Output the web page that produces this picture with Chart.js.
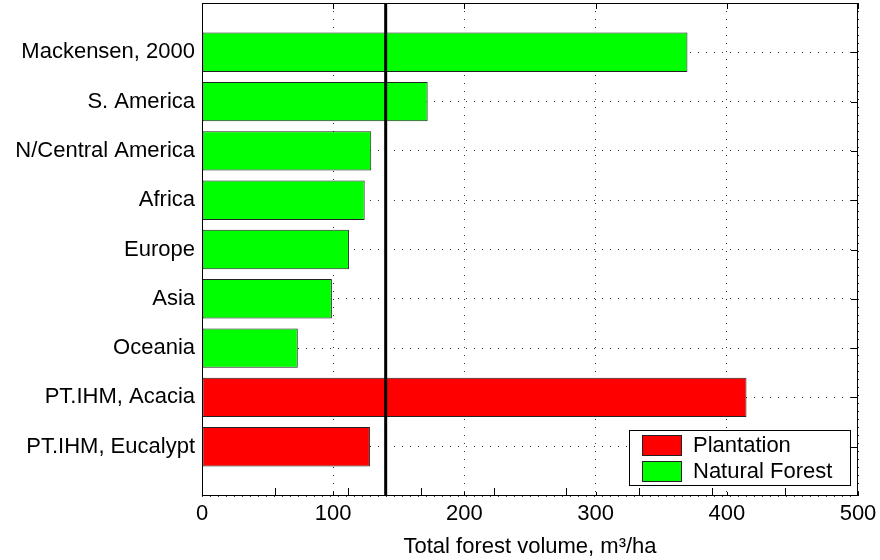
<!DOCTYPE html>
<html>
<head>
<meta charset="utf-8">
<script src="https://cdn.jsdelivr.net/npm/chart.js@4.4.1/dist/chart.umd.min.js"></script>
<style>
  html, body { margin: 0; padding: 0; background: #fff; }
  #wrap { width: 880px; height: 560px; }
</style>
</head>
<body>
<div id="wrap"><canvas id="myChart" width="880" height="560"></canvas></div>
<script>
// categorias, de cima para baixo
var categories = ['Mackensen, 2000', 'S. America', 'N/Central America', 'Africa', 'Europe',
                  'Asia', 'Oceania', 'PT.IHM, Acacia', 'PT.IHM, Eucalypt'];
var plantation    = [null, null, null, null, null, null, null, 415, 128];
var naturalForest = [370, 172, 129, 124, 112, 99, 73, null, null];
var referenceLine = 140;
var xTickValues = [0, 100, 200, 300, 400, 500];
var xMin = 0, xMax = 500;

// linha vazia em cima e em baixo (como o ylim [0 10] do original)
var labels = [''].concat(categories, ['']);
function pad(arr) { return [null].concat(arr, [null]); }

var FONT = "Arial, 'Liberation Sans', sans-serif";
var FONT_SIZE = 22;

var boxPlugin = {
    id: 'boxPlugin',
    afterDatasetsDraw: function (chart) {
        var ctx = chart.ctx;
        var a = chart.chartArea;
        var x = chart.scales.x, y = chart.scales.y;
        ctx.save();
        // linha vertical de referencia
        var px = x.getPixelForValue(referenceLine);
        ctx.strokeStyle = '#000';
        ctx.lineWidth = 3;
        ctx.beginPath();
        ctx.moveTo(px, a.top);
        ctx.lineTo(px, a.bottom);
        ctx.stroke();

        // caixa
        ctx.lineWidth = 1;
        ctx.strokeRect(Math.round(a.left) + 0.5, Math.round(a.top) + 0.5,
                       Math.round(a.right - a.left) - 1, Math.round(a.bottom - a.top) - 1);

        // ticks para dentro
        ctx.beginPath();
        xTickValues.forEach(function (v) {
            var p = Math.round(x.getPixelForValue(v)) + 0.5;
            ctx.moveTo(p, a.bottom); ctx.lineTo(p, a.bottom - 4);
            ctx.moveTo(p, a.top); ctx.lineTo(p, a.top + 6);
        });
        for (var k = 1; k < categories.length; k++) {
            var q = Math.round(x.getPixelForValue(xMax * k / categories.length)) + 0.5;
            ctx.moveTo(q, a.bottom); ctx.lineTo(q, a.bottom - 8);
        }
        for (var i = 1; i <= categories.length; i++) {
            var py = Math.round(y.getPixelForValue(i)) + 0.5;
            ctx.moveTo(a.right, py); ctx.lineTo(a.right - 7, py);
        }
        ctx.stroke();
        ctx.restore();
    },
    afterDraw: function (chart) {
        // legenda dentro do grafico, canto inferior direito
        var ctx = chart.ctx;
        var a = chart.chartArea;
        var w = 221, h = 55;
        var left = a.right - 8 - w, top = a.bottom - 11 - h;
        ctx.save();
        ctx.fillStyle = '#fff';
        ctx.fillRect(left, top, w, h);
        ctx.strokeStyle = '#000';
        ctx.lineWidth = 1;
        ctx.strokeRect(Math.round(left) + 0.5, Math.round(top) + 0.5, w, h);
        ctx.font = FONT_SIZE + 'px ' + FONT;
        ctx.textBaseline = 'middle';
        chart.data.datasets.forEach(function (ds, i) {
            var cy = top + 15 + i * 26;
            ctx.fillStyle = ds.backgroundColor;
            ctx.fillRect(left + 13, cy - 10, 39, 20);
            ctx.strokeStyle = '#222';
            ctx.strokeRect(left + 13.5, cy - 9.5, 39, 20);
            ctx.fillStyle = '#000';
            ctx.fillText(ds.label, left + 64, cy + 1);
        });
        ctx.restore();
    }
};

var ctx = document.getElementById('myChart').getContext('2d');
var myChart = new Chart(ctx, {
    type: 'bar',
    data: {
        labels: labels,
        datasets: [{
            label: 'Plantation',
            data: pad(plantation),
            backgroundColor: '#ff0000',
            borderColor: '#222',
            borderWidth: 1,
            borderSkipped: false,
            grouped: false,
            categoryPercentage: 0.8,
            barPercentage: 1
        }, {
            label: 'Natural Forest',
            data: pad(naturalForest),
            backgroundColor: '#00ff00',
            borderColor: '#222',
            borderWidth: 1,
            borderSkipped: false,
            grouped: false,
            categoryPercentage: 0.8,
            barPercentage: 1
        }]
    },
    options: {
        indexAxis: 'y',
        responsive: false,
        animation: false,
        layout: { padding: { left: 0, right: 22, top: 3, bottom: 0 } },
        plugins: {
            legend: { display: false },
            tooltip: { enabled: false }
        },
        scales: {
            x: {
                type: 'linear',
                min: xMin,
                max: xMax,
                afterBuildTicks: function (scale) {
                    scale.ticks = xTickValues.map(function (v) { return { value: v }; });
                },
                grid: { color: '#333', drawTicks: false, lineWidth: 1 },
                border: { display: false, dash: [1, 7] },
                ticks: { color: '#000', padding: 5, font: { family: FONT, size: FONT_SIZE } },
                title: {
                    display: true,
                    text: 'Total forest volume, m\u00b3/ha',
                    color: '#000',
                    font: { family: FONT, size: FONT_SIZE },
                    padding: { top: 0, bottom: 0 }
                },
                afterFit: function (scale) {
                    scale.height = 64;
                    scale.paddingLeft = 0;
                    scale.paddingRight = 0;
                }
            },
            y: {
                type: 'category',
                offset: false,
                grid: { color: '#333', drawTicks: false, offset: false, lineWidth: 1 },
                border: { display: false, dash: [1, 7] },
                ticks: { color: '#000', padding: 7, autoSkip: false, font: { family: FONT, size: FONT_SIZE } },
                afterFit: function (scale) {
                    scale.width = 202;
                    scale.paddingTop = 0;
                    scale.paddingBottom = 0;
                }
            }
        }
    },
    plugins: [boxPlugin]
});
</script>
</body>
</html>
